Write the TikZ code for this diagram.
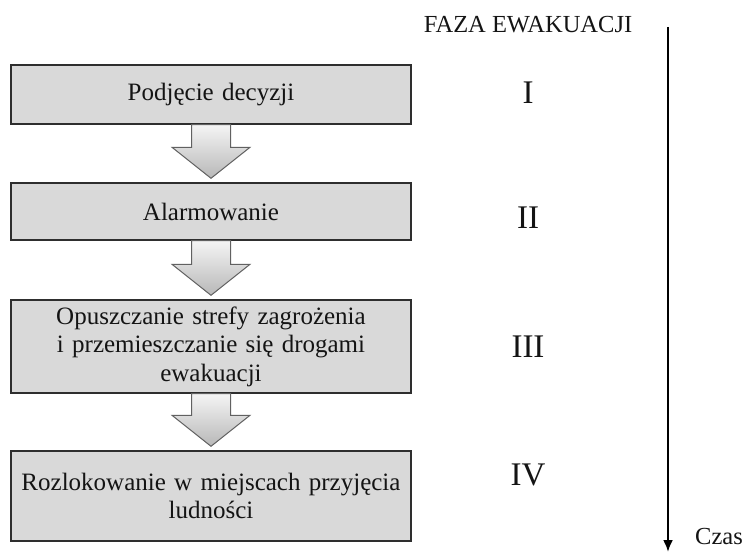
\documentclass[tikz,border=0pt]{standalone}
\usepackage{fontspec}
\setmainfont{Liberation Serif}
\usetikzlibrary{calc,arrows.meta}
\tikzset{
  stagebox/.style={draw=black!82, line width=1.4pt, fill=black!15, minimum width=400pt, inner sep=0pt, text width=394pt, align=center, font=\fontsize{25}{28.5}\selectfont, text=black!92},
  blockarrow/.style={draw=black!62, line width=1pt, top color=black!4, bottom color=black!28},
  phase/.style={font=\fontsize{33}{33}\selectfont, text=black!92, inner sep=0pt},
  lbl/.style={font=\fontsize{24.5}{24.5}\selectfont, text=black!92, inner sep=0pt}
}
\newcommand{\blockarr}[2]{%
  \path[blockarrow] ($(#1.south)+(-19.5,0)$) -- ($(#2.north)+(-19.5,-35)$) -- ($(#2.north)+(-39,-35)$) -- ($(#2.north)+(0,-4)$) -- ($(#2.north)+(39,-35)$) -- ($(#2.north)+(19.5,-35)$) -- ($(#1.south)+(19.5,0)$) -- cycle;}
\begin{document}
\begin{tikzpicture}[x=1pt,y=-1pt]
\useasboundingbox (0,0) rectangle (745,553);
\node[stagebox, minimum height=59pt] (b1) at (211,94.5) {Podjęcie decyzji};
\node[stagebox, minimum height=57pt] (b2) at (211,211.5) {Alarmowanie};
\node[stagebox, minimum height=93pt] (b3) at (211,346.5) {Opuszczanie strefy zagrożenia\\ i przemieszczanie się drogami\\ ewakuacji};
\node[stagebox, minimum height=90pt] (b4) at (211,496) {Rozlokowanie w miejscach przyjęcia\\ ludności};
\blockarr{b1}{b2}
\blockarr{b2}{b3}
\blockarr{b3}{b4}
\node[lbl] (faza) at (528,25) {FAZA EWAKUACJI};
\node[phase] (p1) at (528,93) {I};
\node[phase] (p2) at (528,218) {II};
\node[phase] (p3) at (528,347) {III};
\node[phase] (p4) at (528,475) {IV};
\coordinate (ttop) at (668,27);
\coordinate (tend) at (668,552);
\draw[line width=2.2pt, -{Latex[length=12pt,width=10pt]}] (ttop) -- (tend);
\node[lbl] (czas) at (719,537) {Czas};
\end{tikzpicture}
\end{document}
